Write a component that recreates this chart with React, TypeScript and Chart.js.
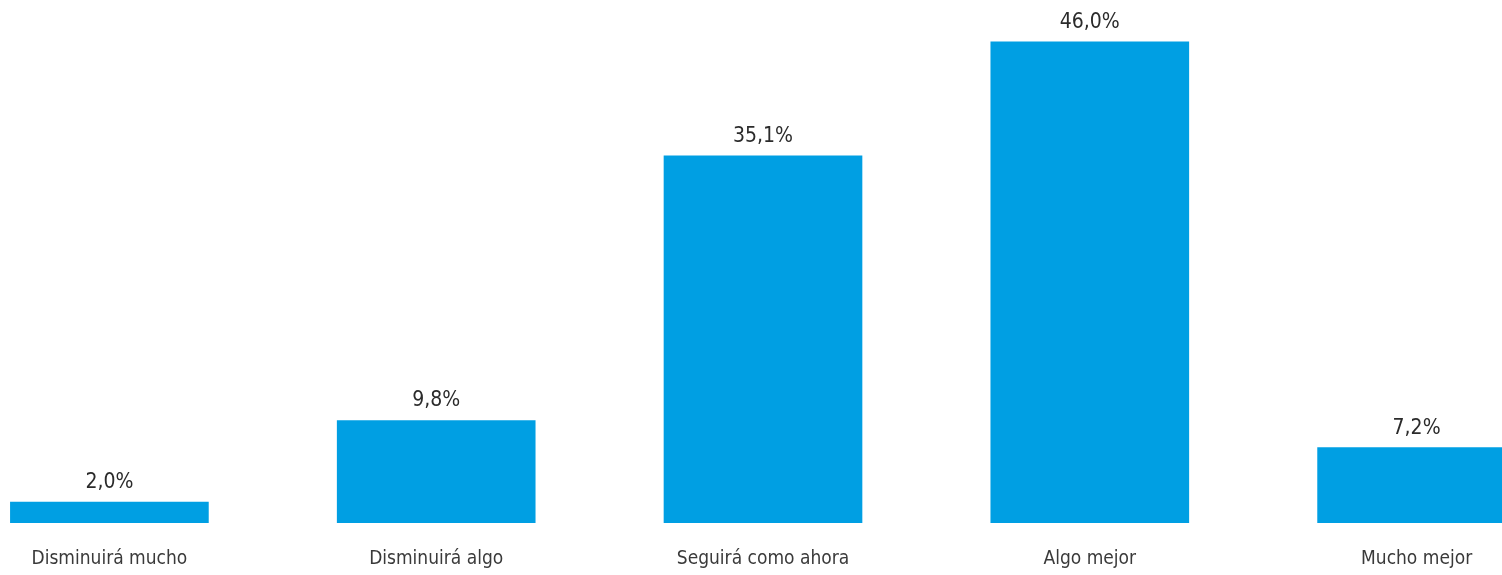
import React, { useEffect, useRef } from "react";
import { Chart, registerables } from "chart.js";

Chart.register(...registerables);

const categories = ["Disminuirá mucho", "Disminuirá algo", "Seguirá como ahora", "Algo mejor", "Mucho mejor"];
const values = [2.0, 9.8, 35.1, 46.0, 7.2];
const valueLabels = ["2,0%", "9,8%", "35,1%", "46,0%", "7,2%"];

const FONT = "'Liberation Sans Narrow', 'DejaVu Sans Condensed', 'Liberation Sans', sans-serif";

const valueLabelPlugin = {
  id: "valueLabels",
  afterDatasetsDraw(chart: any) {
    const ctx = chart.ctx;
    const meta = chart.getDatasetMeta(0);
    ctx.save();
    ctx.font = `21px ${FONT}`;
    ctx.fillStyle = "#2b2b2b";
    ctx.textAlign = "center";
    ctx.textBaseline = "alphabetic";
    meta.data.forEach((bar: any, i: number) => {
      ctx.fillText(valueLabels[i], bar.x, bar.y - 14);
    });
    ctx.restore();
  },
};

export default function App() {
  const ref = useRef<HTMLCanvasElement | null>(null);
  useEffect(() => {
    if (!ref.current) return;
    const chart = new Chart(ref.current, {
      type: "bar",
      data: {
        labels: categories,
        datasets: [
          {
            data: values,
            backgroundColor: "#009FE3",
            borderWidth: 0,
            barThickness: 198,
          },
        ],
      },
      options: {
        responsive: false,
        animation: false,
        maintainAspectRatio: false,
        layout: { padding: { top: 0, bottom: 0, left: 0, right: 0 } },
        plugins: {
          legend: { display: false },
          tooltip: { enabled: false },
        },
        scales: {
          x: {
            offset: true,
            grid: { display: false, drawTicks: false },
            border: { display: false },
            afterFit: (scale: any) => {
              scale.height = 52;
            },
            ticks: {
              maxRotation: 0,
              autoSkip: false,
              padding: 25,
              color: "#3a3a3a",
              font: { family: FONT, size: 19 },
            },
          },
          y: {
            display: false,
            min: 0,
            max: 50,
          },
        },
      },
      plugins: [valueLabelPlugin],
    });
    return () => chart.destroy();
  }, []);

  return (
    <div
      style={{
        position: "fixed",
        top: 0,
        left: 0,
        width: 1502,
        height: 575,
        overflow: "hidden",
        background: "#ffffff",
      }}
    >
      <canvas
        ref={ref}
        width={1634}
        height={575}
        style={{ position: "absolute", left: -54, top: 0, width: 1634, height: 575 }}
      />
    </div>
  );
}
